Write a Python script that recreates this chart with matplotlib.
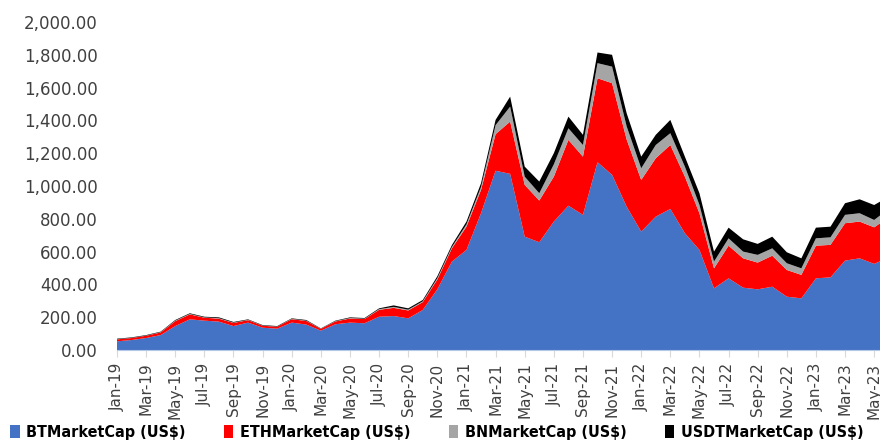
import numpy as np
import pandas as pd
import matplotlib
matplotlib.use("Agg")
from matplotlib import pyplot as plt
from matplotlib.patches import Patch

# Monthly market caps (US$ bn), Jan-19 .. Jun-23
months = pd.date_range("2019-01-01", "2023-06-01", freq="MS").strftime("%b-%y").tolist()

btc = [53, 61, 73, 91, 146, 187, 179, 173, 146, 167, 136, 130, 167, 155, 118, 157, 167, 163,
       203, 207, 193, 244, 370, 539, 610, 834, 1093, 1074, 691, 657, 783, 880, 824, 1145, 1068,
       874, 722, 813, 860, 712, 610, 376, 437, 380, 370, 386, 325, 315, 437, 443, 545, 559, 525, 565]
eth = [12, 12, 14, 16, 30, 30, 18, 18, 19, 15, 12, 12, 21, 22, 11, 17, 25, 26,
       42, 50, 48, 48, 60, 81, 142, 142, 223, 319, 316, 254, 274, 401, 355, 512, 559,
       410, 315, 356, 390, 345, 224, 122, 199, 179, 163, 189, 163, 143, 199, 198, 228, 224, 223, 245]
bnb = [1, 1, 1, 2, 3, 3, 2, 3, 2, 2, 1, 1, 2, 2, 1, 2, 3, 2,
       4, 6, 5, 5, 8, 8, 14, 18, 55, 91, 50, 45, 75, 71, 71, 92, 101,
       80, 71, 81, 72, 61, 51, 41, 45, 41, 47, 45, 41, 40, 45, 46, 51, 51, 45, 50]
usdt = [3, 3, 3, 3, 4, 4, 4, 5, 4, 3, 3, 3, 3, 4, 2, 3, 4, 4,
        5, 9, 8, 8, 12, 12, 17, 23, 32, 61, 61, 71, 68, 71, 62, 65, 72,
        80, 71, 62, 81, 61, 71, 61, 65, 75, 67, 71, 67, 61, 65, 65, 71, 85, 91, 75]

names = ["BTMarketCap (US$)", "ETHMarketCap (US$)", "BNMarketCap (US$)", "USDTMarketCap (US$)"]
colors = ["#4472C4", "#FF0000", "#A5A5A5", "#000000"]

x = np.arange(len(months))

fig = plt.figure(figsize=(8.8, 4.41), dpi=100)
ax = fig.add_axes([117/880, 1 - 350/441, 1 - 117/880, 328/441])

ax.stackplot(x, btc, eth, bnb, usdt, colors=colors, linewidth=0)

ax.set_xlim(0, 52.4)
ax.set_ylim(0, 2000)
ax.set_yticks(np.arange(0, 2001, 200))
ax.set_yticklabels([f"{v:,.2f}" for v in np.arange(0, 2001, 200)])
ax.set_xticks(x[::2])
ax.set_xticklabels(months[::2], rotation=90)

for s in ["top", "right", "left"]:
    ax.spines[s].set_visible(False)
ax.spines["bottom"].set_color("#B4C7E7")
ax.tick_params(axis="y", length=0, labelsize=12, labelcolor="#404040", pad=14)
ax.tick_params(axis="x", length=5, color="#D9D9D9", labelsize=11, labelcolor="#404040", pad=4)

handles = [Patch(facecolor=c) for c in colors]
fig.legend(handles, names, loc="lower left", bbox_to_anchor=(-0.005, -0.03), ncol=4,
           frameon=False, handlelength=0.6, handleheight=0.9,
           handletextpad=0.4, columnspacing=2.4,
           prop={"weight": "bold", "size": 11.5, "stretch": "condensed"})

fig.savefig("out.png", dpi=100)
